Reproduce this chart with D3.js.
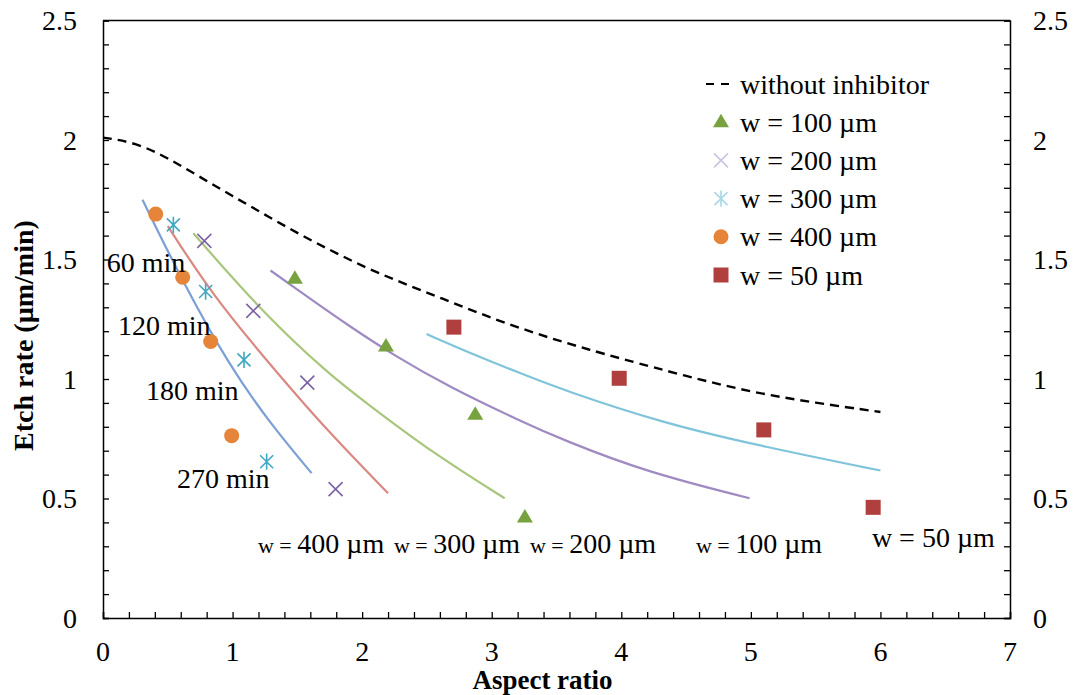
<!DOCTYPE html>
<html>
<head>
<meta charset="utf-8">
<script src="https://cdn.jsdelivr.net/npm/d3@7"></script>
<style>
  html, body { margin: 0; padding: 0; background: #fff; }
  svg { display: block; }
  text { font-family: "Liberation Serif", "Times New Roman", serif; fill: #000; }
</style>
</head>
<body>
<svg id="chart" width="1073" height="695"></svg>
<script>
// ---------------- DATA ----------------
const xTickValues = [0, 1, 2, 3, 4, 5, 6, 7];
const yTickValues = [0, 0.5, 1, 1.5, 2, 2.5];
const xTickLabels = ["0", "1", "2", "3", "4", "5", "6", "7"];
const yTickLabels = ["0", "0.5", "1", "1.5", "2", "2.5"];

// dashed reference curve: without inhibitor
const noInhibitorX = [0, 0.25, 0.5, 0.75, 1.0, 1.25, 1.5, 1.75, 2.0, 2.25, 2.5, 2.75, 3.0, 3.25, 3.5, 3.75, 4.0, 4.5, 5.0, 5.5, 6.0];
const noInhibitorY = [2.01, 1.99, 1.925, 1.845, 1.765, 1.688, 1.61, 1.54, 1.473, 1.415, 1.362, 1.308, 1.255, 1.207, 1.163, 1.123, 1.085, 1.012, 0.945, 0.9, 0.862];

// fitted curves
const fit400X = [0.305, 0.62, 0.98, 1.289, 1.61];
const fit400Y = [1.75, 1.401, 1.052, 0.815, 0.606];
const fit300X = [0.50, 0.851, 1.347, 1.726, 2.2];
const fit300Y = [1.64, 1.345, 1.024, 0.787, 0.522];
const fit200X = [0.697, 1.237, 1.75, 2.034, 2.548, 3.10];
const fit200Y = [1.61, 1.275, 1.017, 0.899, 0.689, 0.501];
const fit100X = [1.293, 1.52, 1.906, 2.24, 2.677, 3.218, 3.55, 4.195, 4.99];
const fit100Y = [1.454, 1.366, 1.219, 1.101, 0.965, 0.825, 0.745, 0.61, 0.501];
const fit50X = [2.497, 2.909, 3.218, 3.55, 4.324, 5.096, 6.0];
const fit50Y = [1.188, 1.091, 1.025, 0.954, 0.815, 0.717, 0.617];

// measured points
const w100X = [1.481, 2.184, 2.873, 3.256];
const w100Y = [1.419, 1.136, 0.850, 0.421];
const w200X = [0.782, 1.160, 1.577, 1.795];
const w200Y = [1.578, 1.285, 0.985, 0.539];
const w300X = [0.543, 0.792, 1.088, 1.263];
const w300Y = [1.645, 1.366, 1.080, 0.654];
const w400X = [0.407, 0.615, 0.831, 0.993];
const w400Y = [1.690, 1.426, 1.157, 0.763];
const w50X = [2.708, 3.984, 5.10, 5.944];
const w50Y = [1.217, 1.003, 0.787, 0.463];

const legendLabels = ["without inhibitor", "w = 100 \u00b5m", "w = 200 \u00b5m", "w = 300 \u00b5m", "w = 400 \u00b5m", "w = 50 \u00b5m"];
const timeLabels = ["60 min", "120 min", "180 min", "270 min"];
const curvePrefix = ["w = ", "w = ", "w = ", "w = "];
const curveValues = ["400 \u00b5m", "300 \u00b5m", "200 \u00b5m", "100 \u00b5m"];
const curve50Label = "w = 50 \u00b5m";
const xTitle = "Aspect ratio";
const yTitle = "Etch rate (\u00b5m/min)";

// ---------------- LAYOUT ----------------
const svg = d3.select("#chart");
svg.append("rect").attr("width", 1073).attr("height", 695).attr("fill", "#fff");

const L = 103, R = 1010, T = 20.5, B = 618;
const x = d3.scaleLinear().domain([0, 7]).range([L, R]);
const y = d3.scaleLinear().domain([0, 2.5]).range([B, T]);

const C = {
  dash: "#000",
  l400: "#7c9fd6", l300: "#d98982", l200: "#a8c67c", l100: "#9f8ac2", l50: "#7fc4da",
  tri: "#77a23f", xm: "#7b62a6", ast: "#3fa8c2", circ: "#e6843a", sq: "#b0403d",
  xmLight: "#cbc2e1", astLight: "#a9d8e6"
};

// axes: frame
const g = svg.append("g");
g.append("line").attr("x1", L).attr("x2", R).attr("y1", T).attr("y2", T).attr("stroke", "#000").attr("stroke-width", 1.5);
const axL = d3.axisLeft(y).tickValues(d3.range(0, 2.5001, 0.1)).tickSize(-6).tickFormat("");
const axR = d3.axisRight(y).tickValues(d3.range(0, 2.5001, 0.1)).tickSize(-6).tickFormat("");
const axB = d3.axisBottom(x).tickValues(d3.range(0, 7.0001, 0.2)).tickSize(-6).tickFormat("");
[[axL, `translate(${L},0)`], [axR, `translate(${R},0)`], [axB, `translate(0,${B})`]].forEach(([a, t]) => {
  const ga = g.append("g").attr("transform", t).call(a);
  ga.select(".domain").attr("stroke", "#000").attr("stroke-width", 1.5);
  ga.selectAll(".tick line").attr("stroke", "#000").attr("stroke-width", 1.3);
});

// tick labels
const FS = 28;
g.selectAll(".yl").data(yTickValues).enter().append("text")
  .attr("x", 77).attr("y", d => y(d) + 9.5).attr("text-anchor", "end")
  .attr("font-size", FS).text((d, i) => yTickLabels[i]);
g.selectAll(".yr").data(yTickValues).enter().append("text")
  .attr("x", 1033).attr("y", d => y(d) + 9.5).attr("text-anchor", "start")
  .attr("font-size", FS).text((d, i) => yTickLabels[i]);
g.selectAll(".xl").data(xTickValues).enter().append("text")
  .attr("x", d => x(d)).attr("y", 660.5).attr("text-anchor", "middle")
  .attr("font-size", FS).text((d, i) => xTickLabels[i]);

// axis titles
svg.append("text").attr("x", (L + R) / 2 - 14).attr("y", 689).attr("text-anchor", "middle")
  .attr("font-size", 27).attr("font-weight", "bold").text(xTitle);
svg.append("text").attr("transform", "translate(33,335.5) rotate(-90)").attr("text-anchor", "middle")
  .attr("font-size", FS).attr("font-weight", "bold").text(yTitle);

// ---------------- CURVES ----------------
const zip = (xs, ys) => xs.map((v, i) => [v, ys[i]]);
const line = d3.line().x(d => x(d[0])).y(d => y(d[1])).curve(d3.curveBasis);

const fits = [
  [fit400X, fit400Y, C.l400], [fit300X, fit300Y, C.l300], [fit200X, fit200Y, C.l200],
  [fit100X, fit100Y, C.l100], [fit50X, fit50Y, C.l50]
];
fits.forEach(([xs, ys, col]) => {
  svg.append("path").datum(zip(xs, ys)).attr("d", line)
    .attr("fill", "none").attr("stroke", col).attr("stroke-width", 2.2);
});
svg.append("path").datum(zip(noInhibitorX, noInhibitorY)).attr("d", line)
  .attr("fill", "none").attr("stroke", C.dash).attr("stroke-width", 2.4)
  .attr("stroke-dasharray", "9,6");

// ---------------- MARKERS ----------------
const triPath = "M0,-8.5L8,5L-8,5Z";
const xPath = r => `M${-r},${-r}L${r},${r}M${-r},${r}L${r},${-r}`;
const astPath = r => `M${-r},${-r}L${r},${r}M${-r},${r}L${r},${-r}M0,${-r * 1.25}L0,${r * 1.25}`;

function drawMarker(sel, type, col) {
  if (type === "tri") sel.append("path").attr("d", triPath).attr("fill", col);
  else if (type === "x") sel.append("path").attr("d", xPath(7)).attr("stroke", col).attr("stroke-width", 1.6).attr("fill", "none");
  else if (type === "ast") sel.append("path").attr("d", astPath(6.5)).attr("stroke", col).attr("stroke-width", 1.6).attr("fill", "none");
  else if (type === "circ") sel.append("circle").attr("r", 7.5).attr("fill", col);
  else if (type === "sq") sel.append("rect").attr("x", -7.5).attr("y", -7.5).attr("width", 15).attr("height", 15).attr("fill", col);
}

const series = [
  [w100X, w100Y, "tri", C.tri], [w200X, w200Y, "x", C.xm], [w300X, w300Y, "ast", C.ast],
  [w400X, w400Y, "circ", C.circ], [w50X, w50Y, "sq", C.sq]
];
series.forEach(([xs, ys, type, col]) => {
  zip(xs, ys).forEach(p => {
    const m = svg.append("g").attr("transform", `translate(${x(p[0])},${y(p[1])})`);
    drawMarker(m, type, col);
  });
});

// ---------------- ANNOTATIONS ----------------
const timeAnchors = [[0.029, 1.448], [0.116, 1.185], [0.332, 0.913], [0.571, 0.544]];
timeLabels.forEach((t, i) => {
  svg.append("text").attr("x", x(timeAnchors[i][0])).attr("y", y(timeAnchors[i][1]))
    .attr("font-size", FS).text(t);
});
const curveAnchors = [[1.196, 0.272], [2.245, 0.272], [3.295, 0.272], [4.576, 0.272]];
curveValues.forEach((v, i) => {
  const t = svg.append("text").attr("x", x(curveAnchors[i][0])).attr("y", y(curveAnchors[i][1]));
  t.append("tspan").attr("font-size", 22).text(curvePrefix[i]);
  t.append("tspan").attr("font-size", FS).text(v);
});
svg.append("text").attr("x", x(5.934)).attr("y", y(0.297)).attr("font-size", FS).text(curve50Label);

// ---------------- LEGEND ----------------
const legTypes = ["dash", "tri", "xl", "astl", "circ", "sq"];
const legY0 = 84, legDY = 38.2;
legendLabels.forEach((lab, i) => {
  const cy = legY0 + i * legDY;
  const lg = svg.append("g").attr("transform", `translate(721,${cy})`);
  const tp = legTypes[i];
  if (tp === "dash") {
    lg.append("line").attr("x1", -15).attr("x2", 9).attr("y1", 0).attr("y2", 0)
      .attr("stroke", "#000").attr("stroke-width", 2.2).attr("stroke-dasharray", "8,7");
  } else if (tp === "xl") drawMarker(lg, "x", C.xmLight);
  else if (tp === "astl") drawMarker(lg, "ast", C.astLight);
  else drawMarker(lg, tp, tp === "tri" ? C.tri : tp === "circ" ? C.circ : C.sq);
  svg.append("text").attr("x", 740).attr("y", cy + 9.5).attr("font-size", FS).text(lab);
});
</script>
</body>
</html>
